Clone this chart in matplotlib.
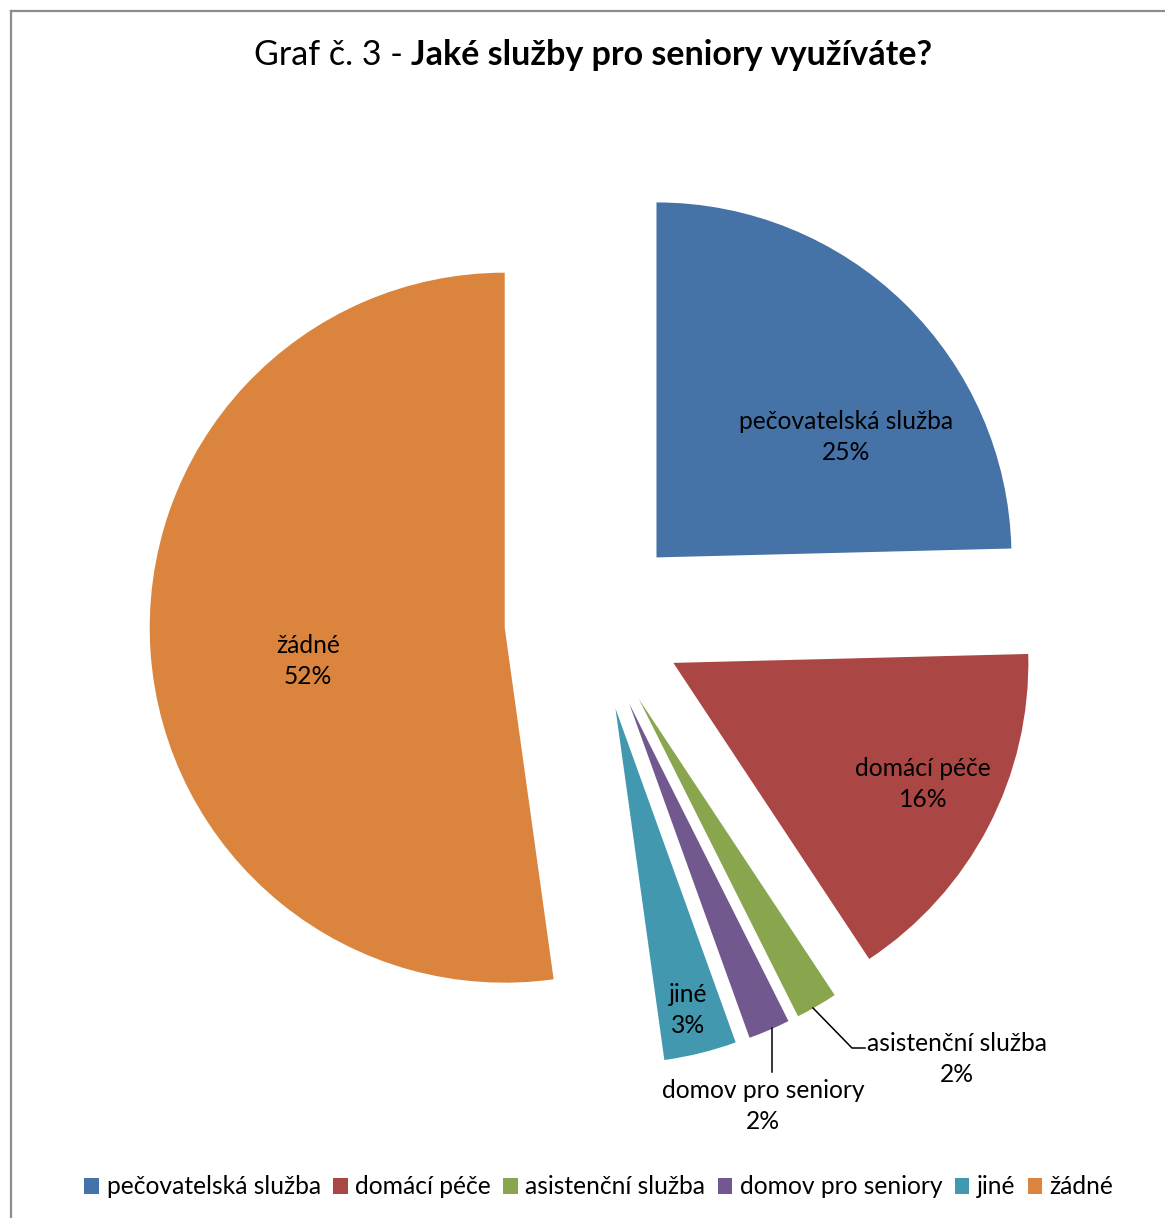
import matplotlib
matplotlib.use("Agg")
import matplotlib.pyplot as plt
from matplotlib.patches import Patch

plt.rcParams['font.family'] = ['Lato', 'DejaVu Sans']

# Data (percent of respondents)
categories = ['pečovatelská služba', 'domácí péče', 'asistenční služba',
              'domov pro seniory', 'jiné', 'žádné']
values = [24.6, 16.1, 1.9, 1.9, 3.3, 52.2]
colors = ['#4572A7', '#AA4643', '#89A54E', '#71588F', '#4198AF', '#DB843D']

W, H = 1165, 1218
fig = plt.figure(figsize=(W / 100, H / 100), dpi=100)
ax = fig.add_axes([0, 0, 1, 1])

# pie in pixel-like data units
cx, cy, r = 594, H - 621.5, 355
ax.pie(values, colors=colors, startangle=90, counterclock=False,
       center=(cx, cy), radius=r, explode=[89.5] * len(values),
       wedgeprops=dict(linewidth=0), frame=True)
ax.set_xlim(0, W)
ax.set_ylim(0, H)
ax.set_aspect('equal')
ax.axis('off')

total = sum(values)
pct = [f"{round(v / total * 100)}%" for v in values]

# label centres (image pixel coords)
label_pos = [(846, 437), (923, 784), (957, 1059), (763, 1106), (688, 1010), (308, 661)]
fs = 17.7
for name, p, (x, y) in zip(categories, pct, label_pos):
    ax.text(x, H - y, f"{name}\n{p}", ha='center', va='center', fontsize=fs,
            linespacing=1.45, color='black')

# leader lines for the small slices
ax.plot([813, 852, 865], [H - 1008, H - 1048, H - 1048], color='black', lw=1.1)
ax.plot([771.5, 771.5], [H - 1028, H - 1072], color='black', lw=1.1)

# chart border (left and top visible)
ax.plot([11, 11], [0, H - 11], color='#8c8c8c', lw=1.6)
ax.plot([11, W], [H - 11, H - 11], color='#8c8c8c', lw=1.6)

# title: regular prefix + bold question
fig.canvas.draw()
rend = fig.canvas.get_renderer()
t1 = ax.text(0, H - 55, "Graf č. 3 - ", fontsize=24.5, va='center', ha='left')
t2 = ax.text(0, H - 55, "Jaké služby pro seniory využíváte?", fontsize=24.5,
             fontweight='bold', va='center', ha='left')
w1 = t1.get_window_extent(rend).width
w2 = t2.get_window_extent(rend).width
x0 = 593 - (w1 + w2) / 2
t1.set_x(x0)
t2.set_x(x0 + w1)

handles = [Patch(facecolor=c, edgecolor='none') for c in colors]
fig.legend(handles, categories, loc='center', bbox_to_anchor=(599 / W, 1 - 1187 / H),
           ncol=6, frameon=False, fontsize=fs, handlelength=0.6, handleheight=0.6,
           handletextpad=0.3, columnspacing=0.5, borderaxespad=0)

fig.savefig('out.png', dpi=100)
